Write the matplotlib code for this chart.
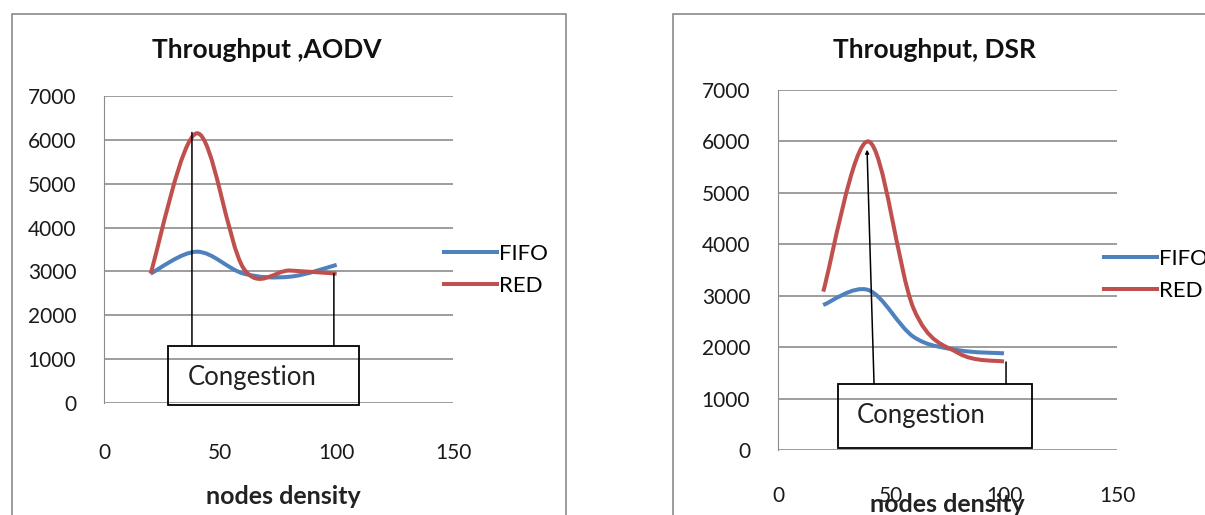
import numpy as np
import matplotlib
matplotlib.use("Agg")
import matplotlib.pyplot as plt
from matplotlib.path import Path
from matplotlib.patches import PathPatch, Rectangle
from matplotlib.lines import Line2D

plt.rcParams['font.family'] = ['Lato', 'DejaVu Sans']

# data
nodes = [20, 40, 60, 80, 100]
aodv_fifo = [2950, 3450, 2950, 2880, 3150]
aodv_red = [2950, 6150, 3070, 3020, 2950]
dsr_fifo = [2820, 3110, 2200, 1940, 1880]
dsr_red = [3080, 6000, 2750, 1880, 1720]
series_names = ['FIFO', 'RED']
x_ticks = [0, 50, 100, 150]
y_ticks = [0, 1000, 2000, 3000, 4000, 5000, 6000, 7000]

BLUE = '#4F81BD'
RED = '#C0504D'
GRID = '#8c8c8c'
W, H = 1205, 515


def smooth_path(xs, ys):
    # Excel-style smoothed line: cubic bezier through every point
    p = np.column_stack([xs, ys]).astype(float)
    ext = np.vstack([p[0], p, p[-1]])
    verts = [p[0]]
    codes = [Path.MOVETO]
    for i in range(len(p) - 1):
        c1 = p[i] + (ext[i + 2] - ext[i]) / 6
        c2 = p[i + 1] - (ext[i + 3] - ext[i + 1]) / 6
        verts += [c1, c2, p[i + 1]]
        codes += [Path.CURVE4] * 3
    return Path(verts, codes)


def fbox(x0, y0, x1, y1):
    # pixel box -> figure fraction rect
    return [x0 / W, 1 - y1 / H, (x1 - x0) / W, (y1 - y0) / H]


fig = plt.figure(figsize=(W / 100, H / 100), dpi=100)

# outer chart borders
fig.patches.append(Rectangle((12 / W, -0.1), (566 - 12) / W, 1 - 14 / H + 0.1,
                             transform=fig.transFigure, fill=False,
                             edgecolor='#8a8a8a', lw=1.2))
fig.patches.append(Rectangle((673 / W, -0.1), 0.5, 1 - 14 / H + 0.1,
                             transform=fig.transFigure, fill=False,
                             edgecolor='#8a8a8a', lw=1.2))

ax1 = fig.add_axes(fbox(104, 96, 453, 403))
ax2 = fig.add_axes(fbox(778, 90, 1117, 450))

panels = [
    (ax1, aodv_fifo, aodv_red, 'Throughput ,AODV', (267, 50), (283, 497),
     (446, 260), 29),
    (ax2, dsr_fifo, dsr_red, 'Throughput, DSR', (934, 50), (947, 504),
     (1106, 265), 26),
]

for ax, fifo, red, title, tpos, lpos, legpos, xpad in panels:
    ax.set_xlim(0, 150)
    ax.set_ylim(0, 7000)
    ax.set_xticks(x_ticks)
    ax.set_yticks(y_ticks)
    ax.tick_params(length=0, labelsize=15, labelcolor='#1a1a1a')
    ax.tick_params(axis='y', pad=20)
    ax.tick_params(axis='x', pad=xpad)
    for s in ['top', 'right', 'bottom']:
        ax.spines[s].set_visible(False)
    ax.spines['left'].set_color(GRID)
    ax.yaxis.grid(True, color=GRID, lw=1.2)
    ax.set_axisbelow(True)
    ax.patch.set_alpha(0)

    for vals, col in [(fifo, BLUE), (red, RED)]:
        ax.add_patch(PathPatch(smooth_path(nodes, vals), fill=False,
                               edgecolor=col, lw=2.9, capstyle='butt',
                               zorder=3))

    fig.text(tpos[0] / W, 1 - tpos[1] / H, title, ha='center', va='center',
             fontsize=19, fontweight='bold', color='#111111')
    fig.text(lpos[0] / W, 1 - lpos[1] / H, 'nodes density', ha='center',
             va='center', fontsize=18, fontweight='bold', color='#222222')

    handles = [Line2D([], [], color=BLUE, lw=2.9),
               Line2D([], [], color=RED, lw=2.9)]
    ax.legend(handles, series_names, loc='upper left',
              bbox_to_anchor=(legpos[0] / W - 0.002, 1 - legpos[1] / H + 0.032),
              bbox_transform=fig.transFigure, frameon=False, fontsize=16,
              handlelength=2.4, handletextpad=0.1, labelspacing=0.55,
              borderaxespad=0, borderpad=0)

# "Congestion" callouts
ax1.add_patch(Rectangle((27.5, -45), 82, 1345, fill=False, edgecolor='black',
                        lw=1.3, clip_on=False, zorder=4))
ax1.text(36, 590, 'Congestion', fontsize=18.5, va='center', color='#222222')
ax1.annotate('', xy=(37.8, 6170), xytext=(37.8, 1300),
             arrowprops=dict(arrowstyle='-', color='black', lw=1.1,
                             shrinkA=0, shrinkB=0), zorder=4)
ax1.annotate('', xy=(98.8, 2950), xytext=(98.8, 1300),
             arrowprops=dict(arrowstyle='-', color='black', lw=1.1,
                             shrinkA=0, shrinkB=0), zorder=4)

ax2.add_patch(Rectangle((26.5, 40), 86, 1244, fill=False, edgecolor='black',
                        lw=1.3, clip_on=False, zorder=4))
ax2.text(35, 680, 'Congestion', fontsize=18.5, va='center', color='#222222')
ax2.annotate('', xy=(39.4, 5840), xytext=(42.5, 1284),
             arrowprops=dict(arrowstyle='-|>', color='black', lw=1.1,
                             mutation_scale=5, shrinkA=0, shrinkB=0),
             zorder=4)
ax2.annotate('', xy=(100.9, 1712), xytext=(100.9, 1284),
             arrowprops=dict(arrowstyle='-', color='black', lw=1.1,
                             shrinkA=0, shrinkB=0), zorder=4)

fig.savefig('out.png', dpi=100)
